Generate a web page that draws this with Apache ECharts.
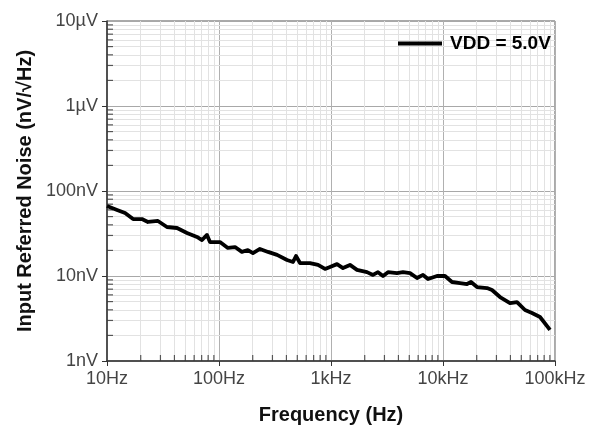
<!DOCTYPE html>
<html>
<head>
<meta charset="utf-8">
<script src="https://cdn.jsdelivr.net/npm/echarts@6/dist/echarts.min.js"></script>
<style>
html,body{margin:0;padding:0;background:#fff;}
#c{width:601px;height:436px;}
</style>
</head>
<body>
<div id="c"></div>
<script>
// Frequency (Hz)
const freq = [10, 12.3, 14.5, 17.1, 20.5, 23.2, 28.5, 34.3, 42.2, 51.8, 63.6, 70.5, 78.1, 83.1,
  102, 120, 139, 160, 181, 201, 232, 274, 330, 405, 458, 487, 529, 649, 766, 884, 980,
  1131, 1280, 1477, 1707, 2096, 2371, 2628, 2913, 3228, 3884, 4394, 5076, 5862, 6630, 7347, 8841,
  10420, 12030, 14180, 16380, 17780, 20120, 24720, 27390, 32290, 39650, 45790, 53980, 62320, 73470, 90240];
// Input referred noise (nV/√Hz)
const noise = [66.6, 59.8, 55.1, 46.8, 46.8, 43.2, 44.4, 37.7, 36.7, 32.1, 28.8, 26.5, 30.4, 25.1,
  25.1, 21.4, 21.9, 19.2, 20.2, 18.6, 20.8, 19.2, 17.7, 15.4, 14.6, 17.2, 14.2, 14.2, 13.5, 12.1, 12.8,
  13.8, 12.4, 13.5, 11.8, 11.1, 10.3, 11.1, 10.0, 11.1, 10.8, 11.1, 10.8, 9.47, 10.3, 9.22, 10.0,
  10.0, 8.50, 8.27, 8.05, 8.50, 7.42, 7.22, 6.84, 5.66, 4.81, 4.94, 3.98, 3.67, 3.29, 2.32];
const seriesName = 'VDD = 5.0V';
const xTickValues = [10, 100, 1000, 10000, 100000];
const xTickLabels = ['10Hz', '100Hz', '1kHz', '10kHz', '100kHz'];
const yTickValues = [1, 10, 100, 1000, 10000];
const yTickLabels = ['1nV', '10nV', '100nV', '1µV', '10µV'];
const minorMultipliers = [2, 3, 4, 5, 6, 7, 8, 9];

const xMinor = [];
xTickValues.slice(0, -1).forEach(d => minorMultipliers.forEach(m => xMinor.push(d * m)));
const yMinor = [];
yTickValues.slice(0, -1).forEach(d => minorMultipliers.forEach(m => yMinor.push(d * m)));

const font = '"Liberation Sans", Arial, sans-serif';
const chart = echarts.init(document.getElementById('c'), null, {renderer: 'canvas'});

chart.setOption({
  animation: false,
  backgroundColor: '#fff',
  grid: {left: 107, right: 46, top: 21, bottom: 75, show: true, borderColor: '#555', borderWidth: 1},
  legend: {
    data: [seriesName],
    left: 393, top: 29, z: 20,
    icon: 'rect', itemWidth: 44, itemHeight: 4,
    textStyle: {fontFamily: font, fontWeight: 'bold', fontSize: 19, color: '#000', padding: [0, 0, 0, 3]}
  },
  xAxis: {
    type: 'log', logBase: 10, min: 10, max: 100000,
    name: 'Frequency (Hz)', nameLocation: 'middle', nameGap: 44,
    nameTextStyle: {fontFamily: font, fontWeight: 'bold', fontSize: 20, color: '#111'},
    axisLine: {lineStyle: {color: '#333', width: 1.5}},
    axisTick: {show: true, length: 5, lineStyle: {color: '#333'}},
    axisLabel: {
      fontFamily: font, fontSize: 18, color: '#444', margin: 9,
      formatter: v => { const i = xTickValues.findIndex(t => Math.abs(t - v) / t < 1e-6); return i >= 0 ? xTickLabels[i] : ''; }
    },
    splitLine: {show: true, lineStyle: {color: '#b0b0b0', width: 1}}
  },
  yAxis: {
    type: 'log', logBase: 10, min: 1, max: 10000,
    name: 'Input Referred Noise (nV/√Hz)', nameLocation: 'middle', nameGap: 72,
    nameTextStyle: {fontFamily: font, fontWeight: 'bold', fontSize: 20, color: '#111'},
    axisLine: {lineStyle: {color: '#333', width: 1.5}},
    axisTick: {show: true, length: 5, lineStyle: {color: '#333'}},
    axisLabel: {
      fontFamily: font, fontSize: 18, color: '#444', margin: 9,
      formatter: v => { const i = yTickValues.findIndex(t => Math.abs(t - v) / t < 1e-6); return i >= 0 ? yTickLabels[i] : ''; }
    },
    splitLine: {show: true, lineStyle: {color: '#a8a8a8', width: 1}}
  },
  series: [
    {
      name: 'minorGrid', type: 'line', data: [], silent: true, z: 0,
      markLine: {
        silent: true, symbol: ['none', 'none'], animation: false, z: 0,
        label: {show: false},
        lineStyle: {color: '#e2e2e2', type: 'solid', width: 1},
        data: xMinor.map(v => ({xAxis: v})).concat(yMinor.map(v => ({yAxis: v})))
      }
    },
    {
      name: 'xMinorTicks', type: 'scatter', silent: true, clip: false, z: 3,
      data: xMinor.map(v => [v, 1]),
      symbol: 'rect', symbolSize: [1.2, 6], symbolOffset: [0, -3],
      itemStyle: {color: '#333'}
    },
    {
      name: 'yMinorTicks', type: 'scatter', silent: true, clip: false, z: 3,
      data: yMinor.map(v => [10, v]),
      symbol: 'rect', symbolSize: [6, 1.2], symbolOffset: [3, 0],
      itemStyle: {color: '#333'}
    },
    {
      name: seriesName, type: 'line', z: 10,
      data: freq.map((f, i) => [f, noise[i]]),
      showSymbol: false, symbol: 'none',
      lineStyle: {color: '#000', width: 3.8, join: 'round'},
      itemStyle: {color: '#000'}
    }
  ]
});
</script>
</body>
</html>
